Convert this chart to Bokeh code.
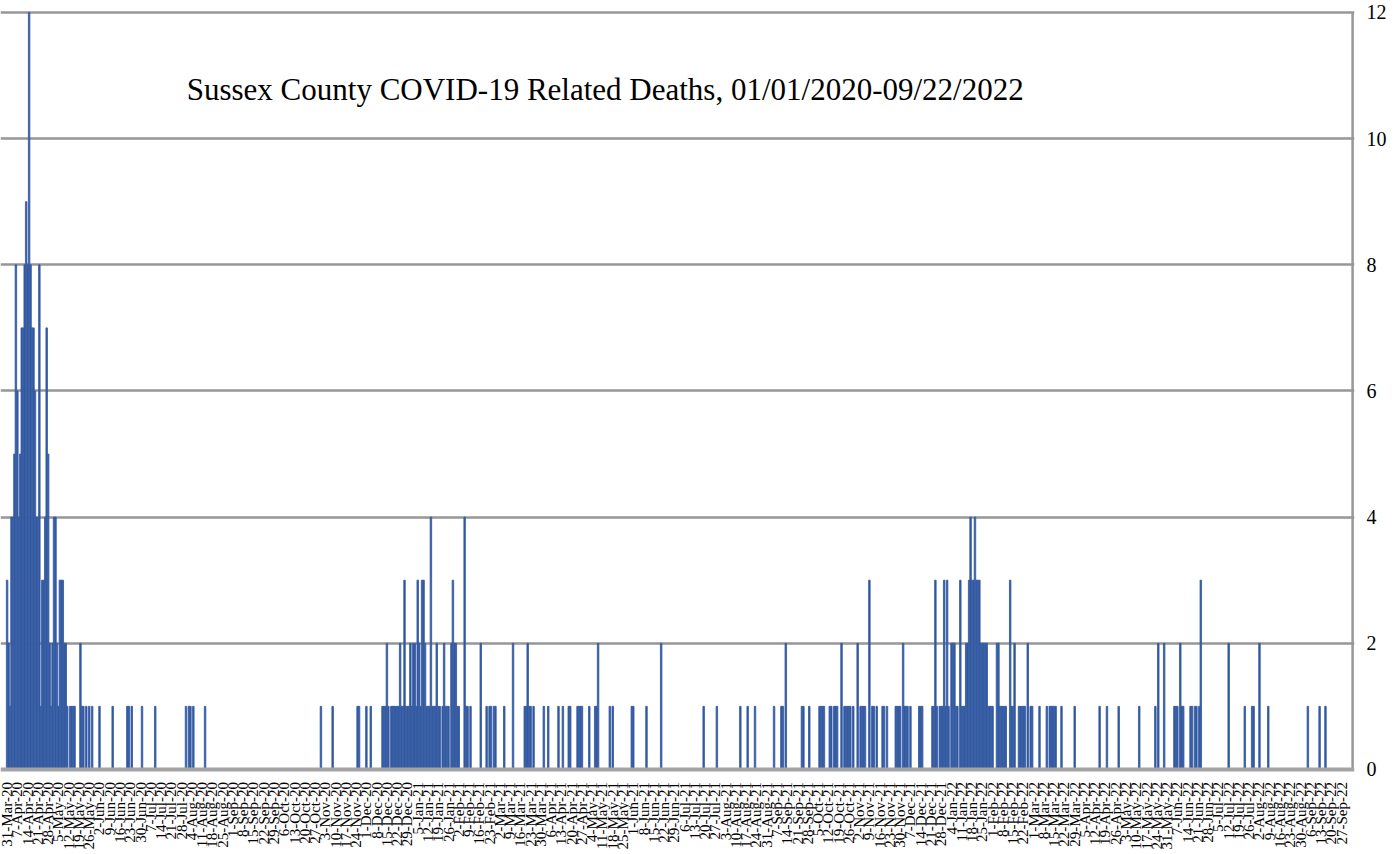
import numpy as np
import pandas as pd
from bokeh.plotting import figure
from bokeh.models import FixedTicker, Label, Range1d, Span
from bokeh.core.properties import value
from bokeh.embed import file_html
from bokeh.resources import INLINE

# ---- data -------------------------------------------------------------
start_date = "2020-03-31"
n_days = 911  # 31-Mar-20 .. 27-Sep-22

# day offsets from start_date that had deaths, and the number of deaths
death_day = [
    0, 1, 2, 3, 4, 5, 6, 7, 8, 9, 10, 11, 12, 13, 14, 15, 16, 17, 18, 19, 20, 21, 22, 23, 24, 25, 26, 27, 28, 29,
    30, 31, 32, 33, 34, 35, 36, 37, 38, 39, 40, 41, 43, 44, 45, 46, 50, 51, 52, 54, 56, 58, 63, 72, 82, 83, 85,
    92, 101, 122, 124, 125, 127, 135, 214, 222, 239, 240, 245, 248,
    256, 257, 258, 259, 260, 262, 263, 264, 265, 266, 267, 268, 269, 270, 271, 272, 273, 274, 275, 276, 277, 278,
    279, 280, 281, 282, 283, 284, 285, 286, 287, 288, 289, 290, 291, 292, 293, 294, 295, 297, 298, 299, 300, 301,
    303, 304, 305, 306, 307, 308, 312, 313, 314, 316, 323, 327, 329, 330, 332, 333,
    339, 345, 353, 354, 355, 356, 357, 359, 366, 369, 376, 379, 383, 384, 389, 390, 391, 392, 397, 401, 402, 403,
    411, 413, 426, 427, 436, 446, 475, 484, 500, 505, 510, 523, 528, 529, 531, 542, 543, 547, 554, 555, 556, 557,
    561, 562, 564, 565, 566, 569, 571, 572, 573, 574, 575, 577, 580, 582, 583, 584, 585, 588, 590, 591, 593, 597,
    598, 600, 606, 607, 608, 609, 611, 612, 613, 614, 616, 622,
    623, 624, 631, 632, 633, 634, 636, 637, 638, 639, 640, 641, 642, 644, 645, 646, 647, 648, 650, 651, 652, 653,
    654, 655, 656, 657, 658, 659, 660, 661, 662, 663, 664, 665, 666, 667, 668, 669, 670, 671, 672, 675, 676, 677,
    678, 679, 680, 681, 684, 685, 686, 687, 690, 691, 692, 693, 694, 696, 698, 699, 704, 709, 711, 712, 713, 714,
    715, 719, 728, 745, 750, 758, 772, 783, 785, 789, 796, 797, 798, 800, 801, 802, 807, 808, 810, 811, 813, 814,
    833, 844, 849, 850, 854, 860, 887, 895, 899,
]
death_count = [
    3, 2, 1, 4, 4, 5, 8, 6, 4, 5, 7, 7, 8, 9, 8, 12, 8, 7, 7, 6, 4, 4, 8, 1, 3, 3, 4, 7, 5, 2,
    1, 2, 4, 4, 2, 1, 3, 3, 3, 2, 2, 1, 1, 1, 1, 1, 2, 1, 1, 1, 1, 1, 1, 1, 1, 1, 1,
    1, 1, 1, 1, 1, 1, 1, 1, 1, 1, 1, 1, 1,
    1, 1, 1, 2, 1, 1, 1, 1, 1, 1, 1, 2, 1, 1, 3, 1, 1, 1, 2, 1, 2, 2,
    1, 3, 2, 1, 3, 3, 2, 1, 1, 1, 4, 1, 1, 1, 2, 1, 1, 1, 2, 1, 1, 1,
    2, 3, 2, 2, 1, 1, 4, 1, 1, 1, 2, 1, 1, 1, 1, 1,
    1, 2, 1, 1, 2, 1, 1, 1, 1, 1, 1, 1, 1, 1, 1, 1, 1, 1, 1, 1, 1, 2,
    1, 1, 1, 1, 1, 2, 1, 1, 1, 1, 1, 1, 1, 1, 2, 1, 1, 1, 1, 1, 1, 1,
    1, 1, 1, 1, 1, 2, 1, 1, 1, 1, 1, 1, 2, 1, 1, 1, 1, 3, 1, 1, 1, 1,
    1, 1, 1, 1, 1, 1, 2, 1, 1, 1, 1, 1,
    1, 1, 1, 1, 3, 1, 1, 1, 1, 3, 1, 3, 1, 2, 2, 2, 1, 1, 3, 1, 1, 1,
    2, 2, 3, 4, 3, 3, 4, 3, 3, 3, 2, 2, 2, 2, 2, 1, 1, 1, 1, 2, 2, 1,
    1, 1, 1, 1, 3, 1, 1, 2, 1, 1, 1, 1, 1, 2, 1, 1, 1, 1, 1, 1, 1, 1,
    1, 1, 1, 1, 1, 1, 1, 1, 2, 2, 1, 1, 1, 2, 1, 1, 1, 1, 1, 1, 1, 3,
    2, 1, 1, 1, 2, 1, 1, 1, 1,
]

y_ticks = [0, 2, 4, 6, 8, 10, 12]
week_ticks = list(range(0, n_days, 7))
week_dates = pd.date_range(start_date, periods=len(week_ticks), freq="7D")
week_labels = [f"{d.day}-{d.strftime('%b-%y')}" for d in week_dates]

title_text = "Sussex County COVID-19 Related Deaths, 01/01/2020-09/22/2022"

# daily series (days not listed had zero deaths)
daily = np.zeros(n_days)
daily[np.array(death_day)] = np.array(death_count)
days = np.arange(n_days)

# ---- figure -------------------------------------------------------------
FONT = "Liberation Serif"
GRID = "#979797"
X_START = -4.5
X_END = 918.8
WALL_X = 917.5
Y_TOP = 12.19
Y_BOTTOM = -1.317
LABEL_Y = -0.2

p = figure(
    width=1396, height=852,
    output_backend="svg", toolbar_location=None,
    x_range=Range1d(X_START, X_END), y_range=Range1d(Y_BOTTOM, Y_TOP),
    y_axis_location="right", x_axis_location=None,
    min_border_left=0, min_border_top=0, min_border_right=42, min_border_bottom=0,
)
p.outline_line_color = None
p.background_fill_color = "white"

# grid
p.xgrid.grid_line_color = None
p.ygrid.ticker = FixedTicker(ticks=y_ticks[1:])
p.ygrid.grid_line_color = GRID
p.ygrid.grid_line_width = 2.5

# back wall edge
p.segment(x0=[WALL_X], y0=[0], x1=[WALL_X], y1=[y_ticks[-1]], line_color=GRID, line_width=2.5)

p.vbar(x=days, top=daily, width=1.0, bottom=0,
       fill_color="#2F5597", line_color="#3A60A8", line_width=0.9)

# floor
p.add_layout(Span(location=0, dimension="width", line_color="#A4A4A4", line_width=4))

# right value axis
p.yaxis.ticker = FixedTicker(ticks=y_ticks)
p.yaxis.major_tick_line_color = None
p.yaxis.minor_tick_line_color = None
p.yaxis.axis_line_color = None
p.yaxis.major_label_text_font = FONT
p.yaxis.major_label_text_font_size = "20px"
p.yaxis.major_label_text_color = "black"
p.yaxis.major_label_standoff = 6

# date labels, one per week, written bottom-to-top under the floor
p.text(x=week_ticks, y=[LABEL_Y] * len(week_ticks), text=week_labels,
       angle=np.pi / 2, text_align="right", text_baseline="middle",
       text_font=value(FONT), text_font_size="15px", text_color="black")

p.add_layout(Label(x=122.5, y=10.78, text=title_text, text_font=FONT,
                   text_font_size="31px", text_color="black",
                   text_baseline="alphabetic"))

open("out.html", "w").write(file_html(p, INLINE))
